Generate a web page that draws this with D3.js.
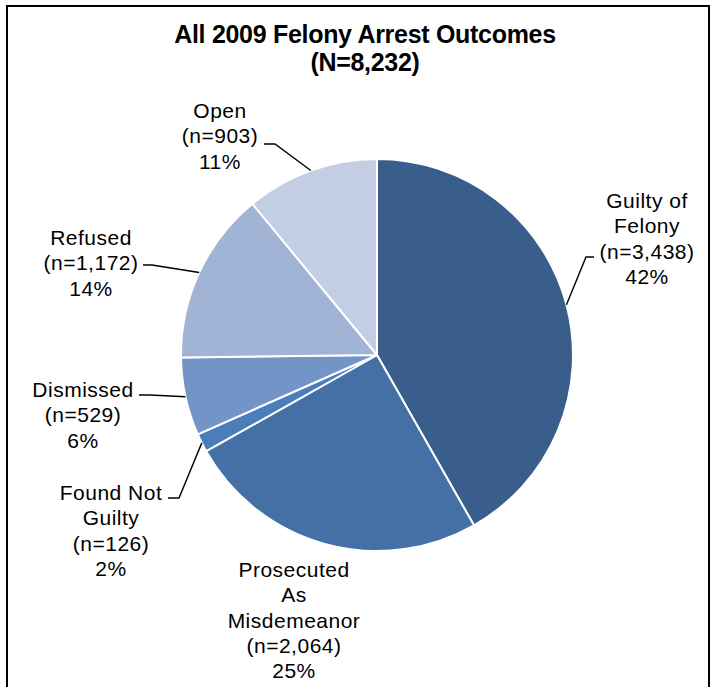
<!DOCTYPE html>
<html>
<head>
<meta charset="utf-8">
<script src="https://cdn.jsdelivr.net/npm/d3@7"></script>
<style>
  html, body { margin: 0; padding: 0; background: #fff; }
  svg { display: block; }
  text { font-family: "Liberation Sans", Arial, sans-serif; fill: #000; }
</style>
</head>
<body>
<svg id="chart" width="713" height="687"></svg>
<script>
// ---- data ----
const titleLines = ["All 2009 Felony Arrest Outcomes", "(N=8,232)"];
const categories = ["Guilty of Felony", "Prosecuted As Misdemeanor", "Found Not Guilty", "Dismissed", "Refused", "Open"];
const counts = [3438, 2064, 126, 529, 1172, 903];
const percents = ["42%", "25%", "2%", "6%", "14%", "11%"];
const labelLines = [
  ["Guilty of", "Felony", "(n=3,438)", "42%"],
  ["Prosecuted", "As", "Misdemeanor", "(n=2,064)", "25%"],
  ["Found Not", "Guilty", "(n=126)", "2%"],
  ["Dismissed", "(n=529)", "6%"],
  ["Refused", "(n=1,172)", "14%"],
  ["Open", "(n=903)", "11%"]
];
const colors = ["#395E8C", "#4470A5", "#4A7EBB", "#7394C7", "#A1B4D6", "#C3CDE3"];

// ---- layout (positions, not data) ----
const W = 713, H = 687;
const cx = 377, cy = 355, R = 196;
const lineH = 25.3;
// label block: center x, first baseline y, leader knee + end near the text (null = no leader)
const labelLayout = [
  { x: 647, y: 208, knee: [586, 257], end: [594, 257] },
  { x: 294, y: 577, knee: null, end: null },
  { x: 111, y: 500, knee: [179, 498], end: [168, 498] },
  { x: 83,  y: 397, knee: [150, 395], end: [139, 395] },
  { x: 91,  y: 245, knee: [152, 265], end: [143, 265] },
  { x: 220, y: 118, knee: [275, 144], end: [264, 144] }
];

const svg = d3.select("#chart");

// frame
svg.append("rect")
  .attr("x", 7).attr("y", 6)
  .attr("width", 702).attr("height", H + 20)
  .attr("fill", "#fff")
  .attr("stroke", "#000")
  .attr("stroke-width", 2);

// title
const title = svg.append("text")
  .attr("text-anchor", "middle")
  .attr("font-weight", "bold")
  .attr("font-size", 25)
  .attr("letter-spacing", "-0.3px");
titleLines.forEach((t, i) => {
  title.append("tspan").attr("x", 365).attr("y", 43 + i * 28).text(t);
});

// pie
const pie = d3.pie().sort(null).value(d => d)
  .startAngle(0).endAngle(2 * Math.PI);
const arcs = pie(counts);
const arc = d3.arc().innerRadius(0).outerRadius(R);
const color = d3.scaleOrdinal().domain(categories).range(colors);

const g = svg.append("g").attr("transform", `translate(${cx},${cy})`);
g.selectAll("path.slice")
  .data(arcs)
  .join("path")
  .attr("class", "slice")
  .attr("d", arc)
  .attr("fill", (d, i) => color(categories[i]))
  .attr("stroke", "#fff")
  .attr("stroke-width", 2)
  .attr("stroke-linejoin", "round");

// leader lines
arcs.forEach((a, i) => {
  const L = labelLayout[i];
  if (!L.knee) return;
  const mid = (a.startAngle + a.endAngle) / 2;
  const px = cx + R * Math.sin(mid);
  const py = cy - R * Math.cos(mid);
  svg.append("polyline")
    .attr("points", [[px, py], L.knee, L.end].map(p => p.join(",")).join(" "))
    .attr("fill", "none")
    .attr("stroke", "#000")
    .attr("stroke-width", 1.4);
});

// labels
labelLines.forEach((lines, i) => {
  const L = labelLayout[i];
  const t = svg.append("text")
    .attr("text-anchor", "middle")
    .attr("font-size", 21)
    .attr("letter-spacing", "0.5px");
  lines.forEach((s, j) => {
    t.append("tspan").attr("x", L.x).attr("y", L.y + j * lineH).text(s);
  });
});
</script>
</body>
</html>
